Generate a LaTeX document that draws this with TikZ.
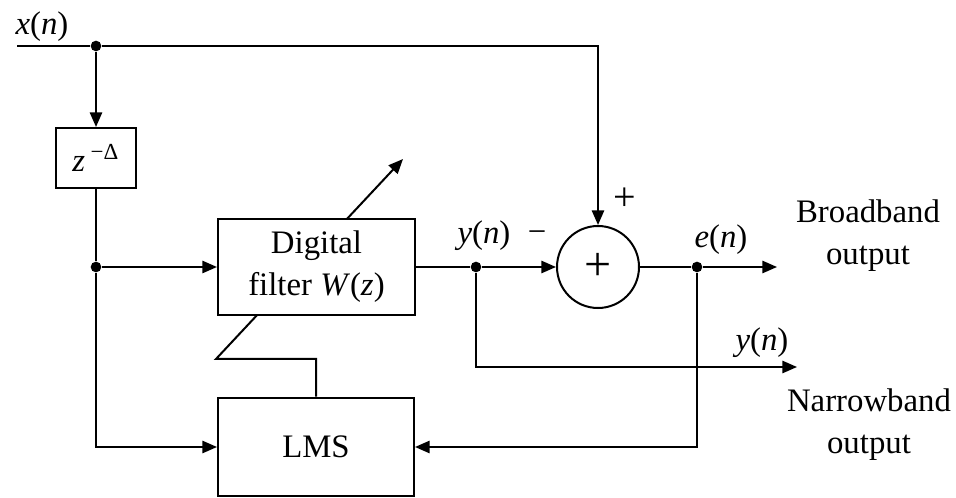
\documentclass[tikz,border=0pt]{standalone}
\usepackage{fontspec}
\setmainfont{Liberation Serif}
\usepackage{tikz}
\usetikzlibrary{positioning,arrows.meta,calc}
\newcommand{\sig}[2]{\textit{#1}(\textit{#2})}

\begin{document}
\begin{tikzpicture}[
  x=0.375pt, y=-0.375pt,
  font=\fontsize{12.3}{15.75}\selectfont,
  line width=0.75pt,
  box/.style={draw, fill=white, align=center, inner sep=2pt},
  sumnode/.style={draw, circle, fill=white, minimum size=30.75pt, inner sep=0pt},
  dot/.style={circle, fill, inner sep=0pt, minimum size=4pt},
  arr/.style={-{Triangle[length=5.5pt,width=4.6pt]}},
  lbl/.style={inner sep=1pt}]

\useasboundingbox (0,0) rectangle (956,498);

% Delay branch and LMS block.
\node[box, minimum width=30pt, minimum height=22.5pt] (dly) at (96,158)
  {\textit{z}\,\textsuperscript{−Δ}};
\node[box, minimum width=73.5pt, minimum height=37.1pt] (lms) at (316,447) {LMS};
\coordinate (tl) at (216,359);
\coordinate (tip) at (403,159);
\draw[arr] (lms.north) |- (tl) -- (tip);

% Filter and summing junction.
\node[box, minimum width=73.9pt, minimum height=36pt] (filt) at (316.5,267)
  {Digital\\filter \textit{W}(\textit{z})};
\node[sumnode, font=\fontsize{18}{18}\selectfont] (sum) at (598,267) {+};

\node[dot] (j1) at (96,46) {};
\node[dot] (j2) at (96,267) {};
\node[dot] (j3) at (476,267) {};
\node[dot] (j4) at (697,267) {};
\coordinate (xin) at (17,46);
\coordinate (bout) at (777,267);
\coordinate (nout) at (797,367);

\draw (xin) -- (j1);
\draw[arr] (j1) -| (sum.north);
\draw[arr] (j1) -- (dly.north);
\draw (dly.south) -- (j2);
\draw[arr] (j2) -- (filt.west);
\draw[arr] (j2) |- (lms.west);
\draw (filt.east) -- (j3);
\draw[arr] (j3) -- (sum.west);
\draw (sum.east) -- (j4);
\draw[arr] (j4) -- (bout);
\draw[arr] (j3) |- (nout);
\draw[arr] (j4) |- (lms.east);

% Labels.
\node[lbl] (xlab) at (42,27) {\sig{x}{n}};
\node[lbl, font=\fontsize{15}{15}\selectfont] (plab) at (625,199) {+};
\node[lbl] (mlab) at (537,237) {−};
\node[lbl] (ylab) at (484,236) {\sig{y}{n}};
\node[lbl] (elab) at (721,240) {\sig{e}{n}};
\node[lbl] (ylab2) at (762,343) {\sig{y}{n}};
\node[lbl, align=center] (bblab) at (868,236) {Broadband\\output};
\node[lbl, align=center] (nblab) at (869,425) {Narrowband\\output};
\end{tikzpicture}
\end{document}
